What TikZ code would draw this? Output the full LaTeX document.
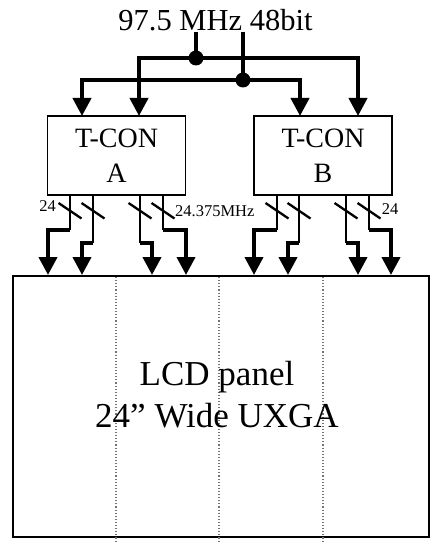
\documentclass[tikz,border=0pt]{standalone}
\usepackage{fontspec}
\setmainfont{Liberation Serif}
\usetikzlibrary{arrows.meta}
\begin{document}
\begin{tikzpicture}[x=1pt,y=-1pt,
  bus/.style={line width=4pt},
  busarrow/.style={line width=4pt,-{Triangle[width=18pt,length=18pt]}},
  sig/.style={line width=2.3pt},
  slash/.style={line width=2.3pt},
  tcon/.style={draw,line width=1.3pt,minimum width=138pt,minimum height=79pt,inner sep=0pt,align=center,font=\fontsize{28}{35}\selectfont},
  dotnode/.style={circle,fill,inner sep=0pt,minimum size=15pt},
  lbl/.style={font=\fontsize{16.5}{18}\selectfont,inner sep=0pt},
  divider/.style={black!55,dotted,line width=1.1pt}
]
\useasboundingbox (0,0) rectangle (445,548);
% title
\node[inner sep=0pt,anchor=base,font=\fontsize{30.5}{34}\selectfont] (t) at (215.5,31) {97.5 MHz 48bit};
% boxes
\node[tcon] (A) at (116.5,155.5) {\raisebox{-2pt}{T-CON}\\\raisebox{-2pt}{A}};
\node[tcon] (B) at (323,155.5) {\raisebox{-2pt}{T-CON}\\\raisebox{-2pt}{B}};
% panel
\node[draw,line width=2pt,minimum width=416pt,minimum height=261pt,inner sep=0pt] (P) at (221,406.5) {};
\foreach \x in {116,219,323} \draw[divider] (\x,277) -- (\x,541);
\node[font=\fontsize{35}{42}\selectfont,align=center,inner sep=0pt] (pt) at (217,395) {LCD panel\\24” Wide UXGA};
% bus
\coordinate (d1) at (196,58);
\coordinate (d2) at (243,80);
\coordinate (ia1) at (82,116);
\coordinate (ia2) at (139,116);
\coordinate (ib1) at (300,116);
\coordinate (ib2) at (358,116);
\draw[bus] (t.south -| d1) -- (d1);
\draw[bus] (t.south -| d2) -- (d2);
\draw[busarrow] (d1) -| (ia2);
\draw[busarrow] (d1) -| (ib2);
\draw[busarrow] (d2) -| (ia1);
\draw[busarrow] (d2) -| (ib1);
\node[dotnode] (n1) at (d1) {};
\node[dotnode] (n2) at (d2) {};
% outputs
\foreach \n/\x/\y/\tx in {a1/70/230/48, a2/93/243/82, a3/140/243/152, a4/163/230/186} {
  \coordinate (j\n) at (\x,\y);
  \coordinate (o\n) at (\tx,275);
  \draw[sig] (A.south -| j\n) -- (j\n);
  \draw[busarrow] (j\n) -| (o\n);
  \draw[slash] ({\x-11.5},203) -- ({\x+11.5},218.5);
}
\foreach \n/\x/\y/\tx in {b1/277/230/254, b2/299/243/288, b3/346/243/358, b4/369/230/391} {
  \coordinate (j\n) at (\x,\y);
  \coordinate (o\n) at (\tx,275);
  \draw[sig] (B.south -| j\n) -- (j\n);
  \draw[busarrow] (j\n) -| (o\n);
  \draw[slash] ({\x-11.5},203) -- ({\x+11.5},218.5);
}
\node[lbl] (l1) at (47.5,206) {24};
\node[lbl,anchor=west] (l2) at (175,211) {24.375MHz};
\node[lbl] (l3) at (390,209) {24};
\end{tikzpicture}
\end{document}
